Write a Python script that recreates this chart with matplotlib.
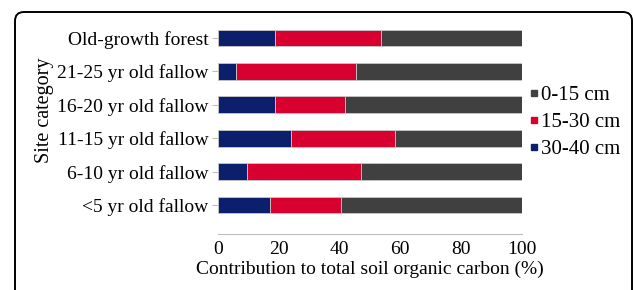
import numpy as np
import matplotlib.pyplot as plt
from matplotlib.patches import PathPatch
from matplotlib.path import Path
from matplotlib.lines import Line2D

plt.rcParams['font.family'] = 'Liberation Serif'

# datos (% de contribucion al COS total)
sitios = ["<5 yr old fallow", "6-10 yr old fallow", "11-15 yr old fallow",
          "16-20 yr old fallow", "21-25 yr old fallow", "Old-growth forest"]
prof_30_40 = [17.0, 9.7, 24.0, 18.8, 5.8, 18.8]
prof_15_30 = [23.6, 37.4, 34.3, 23.1, 39.8, 34.8]
prof_0_15 = [59.4, 52.9, 41.7, 58.1, 54.4, 46.4]

C_AZUL = '#0C1F6C'
C_ROJO = '#D7002E'
C_GRIS = '#404040'

fig = plt.figure(figsize=(6.33, 2.90), dpi=100)
ax = fig.add_axes([0.3444, 0.192, 0.4795, 0.739])

y = np.arange(len(sitios))
a = np.array(prof_30_40)
b = np.array(prof_15_30)
c = np.array(prof_0_15)
kw = dict(height=0.5, edgecolor='#C8C8C8', linewidth=0.6)
ax.barh(y, a, color=C_AZUL, **kw)
ax.barh(y, b, left=a, color=C_ROJO, **kw)
ax.barh(y, c, left=a + b, color=C_GRIS, **kw)

ax.set_xlim(0, 100)
ax.set_ylim(-0.877, 5.54)
ax.set_xticks([0, 20, 40, 60, 80, 100])
ax.set_yticks(y)
ax.set_yticklabels(sitios)
ax.tick_params(axis='y', length=4, color='#BFBFBF', pad=3, labelsize=14)
ax.tick_params(axis='x', length=0, pad=5, labelsize=14)
for s in ['top', 'right', 'left']:
    ax.spines[s].set_visible(False)
ax.spines['bottom'].set_color('#BFBFBF')
ax.set_xlabel("Contribution to total soil organic carbon (%)", fontsize=14, labelpad=2)
fig.text(0.071, 0.619, "Site category", rotation=90, fontsize=14.5,
         ha='center', va='center')

handles = [Line2D([], [], ls='', marker='s', ms=5, color=C_GRIS),
           Line2D([], [], ls='', marker='s', ms=5, color=C_ROJO),
           Line2D([], [], ls='', marker='s', ms=5, color=C_AZUL)]
fig.legend(handles, ["0-15 cm", "15-30 cm", "30-40 cm"], loc='center left',
           bbox_to_anchor=(0.835, 0.578), frameon=False, fontsize=15,
           handlelength=0.5, handletextpad=0.1, labelspacing=0.35,
           borderpad=0, borderaxespad=0)

# marco con esquinas superiores redondeadas (la parte de abajo queda cortada)
x0, x1, top, r, fondo = 0.15, 6.32, 2.78, 0.09, 0.0
verts = [(x0, fondo), (x0, top - r), (x0, top), (x0 + r, top),
         (x1 - r, top), (x1, top), (x1, top - r), (x1, fondo)]
codes = [Path.MOVETO, Path.LINETO, Path.CURVE3, Path.CURVE3,
         Path.LINETO, Path.CURVE3, Path.CURVE3, Path.LINETO]
marco = PathPatch(Path(verts, codes), transform=fig.dpi_scale_trans,
                  fill=False, edgecolor='black', linewidth=1.4,
                  capstyle='butt', clip_on=False)
fig.patches.append(marco)

fig.savefig("out.png", dpi=100)
